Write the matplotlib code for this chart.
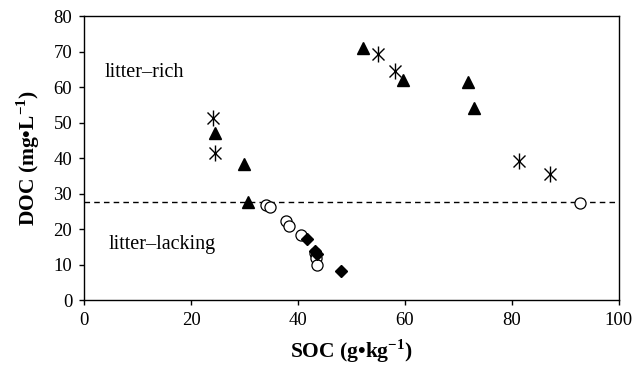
import matplotlib
matplotlib.use("Agg")
import matplotlib.pyplot as plt

plt.rcParams['font.family'] = ['Liberation Serif', 'DejaVu Serif']
plt.rcParams['mathtext.fontset'] = 'custom'
plt.rcParams['mathtext.rm'] = 'Liberation Serif'
plt.rcParams['mathtext.bf'] = 'Liberation Serif:bold'

# data (SOC g/kg, DOC mg/L)
tri_x = [24.5, 29.9, 30.7, 52.1, 59.7, 71.7, 73.0]
tri_y = [47.0, 38.3, 27.5, 71.1, 62.0, 61.5, 54.0]

ast_x = [24.1, 24.5, 55.0, 58.2, 81.4, 87.2]
ast_y = [51.4, 41.5, 69.3, 64.5, 39.2, 35.5]

circ_x = [34.0, 34.8, 37.7, 38.4, 40.6, 43.1, 43.4, 43.6, 92.8]
circ_y = [26.8, 26.3, 22.3, 20.9, 18.3, 13.3, 11.9, 10.0, 27.4]

dia_x = [41.7, 43.1, 43.5, 48.0]
dia_y = [17.1, 13.8, 13.1, 8.2]

threshold = 27.7

fig = plt.figure(figsize=(6.42, 3.66), dpi=100)
ax = fig.add_axes([0.131, 0.180, 0.833, 0.776])

ax.axhline(threshold, color='black', linestyle=(0, (4, 3)), linewidth=1.0, zorder=1)

ax.plot(circ_x, circ_y, linestyle='none', marker='o', markersize=8,
        markerfacecolor='white', markeredgecolor='black', markeredgewidth=0.9, zorder=2)
ax.plot(dia_x, dia_y, linestyle='none', marker='D', markersize=6.5,
        color='black', zorder=3)
ax.plot(tri_x, tri_y, linestyle='none', marker='^', markersize=9,
        color='black', zorder=3)
# asterisk = x plus vertical bar
ax.plot(ast_x, ast_y, linestyle='none', marker='x', markersize=8,
        color='black', markeredgewidth=1.0, zorder=3)
ax.plot(ast_x, ast_y, linestyle='none', marker='|', markersize=11,
        color='black', markeredgewidth=1.0, zorder=3)

ax.text(3.9, 64.2, 'litter\u2013rich', fontsize=14.5, va='center', ha='left')
ax.text(4.5, 15.8, 'litter\u2013lacking', fontsize=14.5, va='center', ha='left')

ax.set_xlim(0, 100)
ax.set_ylim(0, 80)
ax.set_xticks(range(0, 101, 20))
ax.set_yticks(range(0, 81, 10))
ax.tick_params(direction='out', length=3.5, width=1, labelsize=13.5, pad=5)

ax.set_xlabel(r'SOC (g•kg$^{\mathbf{-1}}$)', fontsize=15.5, fontweight='bold', labelpad=6)
ax.set_ylabel(r'DOC (mg•L$^{\mathbf{-1}}$)', fontsize=15.5, fontweight='bold', labelpad=8)

for s in ax.spines.values():
    s.set_linewidth(1.0)

fig.savefig('out.png', dpi=100)
